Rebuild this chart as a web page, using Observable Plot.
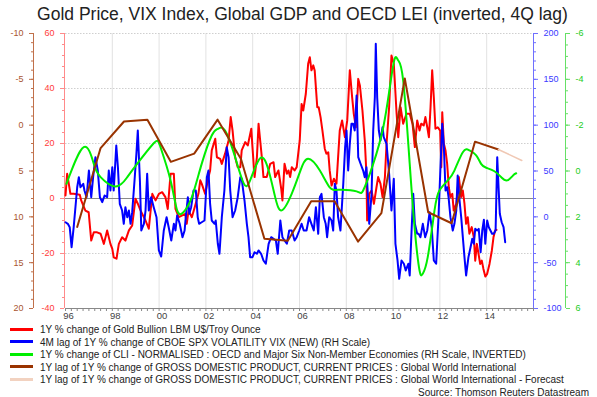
<!DOCTYPE html>
<html><head><meta charset="utf-8">
<script src="https://cdn.jsdelivr.net/npm/d3@7"></script>
<script src="https://cdn.jsdelivr.net/npm/@observablehq/plot@0.6"></script>
<style>
body{margin:0;background:#fff;font-family:"Liberation Sans",Arial,sans-serif;width:597px;height:397px;overflow:hidden}
#title{height:28px;line-height:28px;text-align:center;font-size:17.5px;color:#222;padding-left:8px}
#chart svg{display:block}
#legend{font-size:10px;color:#222;padding-left:10px;margin-top:-4px;position:relative}
.row{height:12.5px;line-height:12.5px;white-space:nowrap}
.sw{display:inline-block;width:23px;height:3px;vertical-align:middle;margin-right:7px;position:relative;top:-1px}
#source{font-size:10px;color:#222;text-align:right;padding-right:8px;height:11px;line-height:11px;position:relative}
</style></head>
<body>
<div id="title">Gold Price, VIX Index, Global GDP and OECD LEI (inverted, 4Q lag)</div>
<div id="chart"></div>
<div id="legend"></div>
<div id="source">Source: Thomson Reuters Datastream</div>
<script>
// ---- data (decimal year, value) ----
const gold = [[1996.00,1.1],[1996.07,9.0],[1996.14,5.4],[1996.21,1.7],[1996.35,1.7],[1996.61,1.4],[1996.67,-0.7],[1996.85,-4.4],[1996.99,-5.0],[1997.10,-15.3],[1997.21,-12.3],[1997.35,-12.3],[1997.50,-12.8],[1997.64,-16.5],[1997.78,-11.6],[1997.92,-16.5],[1998.00,-18.3],[1998.06,-21.4],[1998.18,-21.9],[1998.28,-16.5],[1998.42,-14.1],[1998.56,-15.3],[1998.71,-11.6],[1998.85,-9.8],[1998.99,-0.1],[1999.09,-1.9],[1999.21,-4.4],[1999.42,-8.0],[1999.56,-11.0],[1999.71,1.7],[1999.85,-0.7],[1999.99,1.7],[2000.13,2.3],[2000.27,0.5],[2000.37,-3.8],[2000.49,9.0],[2000.63,9.0],[2000.70,-3.8],[2000.84,-6.8],[2001.12,-5.6],[2001.18,-9.2],[2001.26,-4.4],[2001.40,-6.8],[2001.54,-2.6],[2001.68,1.7],[2001.76,6.6],[2001.82,5.4],[2001.97,1.7],[2002.11,7.8],[2002.18,10.2],[2002.25,17.5],[2002.40,21.7],[2002.47,15.0],[2002.61,14.4],[2002.68,12.6],[2002.82,16.3],[2002.97,21.1],[2003.06,29.6],[2003.14,24.7],[2003.25,15.0],[2003.36,11.4],[2003.47,11.4],[2003.53,17.5],[2003.68,20.5],[2003.79,19.3],[2003.94,25.4],[2003.99,18.7],[2004.08,7.8],[2004.18,15.0],[2004.25,27.2],[2004.32,21.1],[2004.39,15.0],[2004.46,7.8],[2004.60,7.8],[2004.75,12.6],[2004.89,13.2],[2004.96,7.8],[2005.10,10.2],[2005.22,3.5],[2005.27,-0.7],[2005.36,12.6],[2005.46,9.0],[2005.53,10.2],[2005.60,7.8],[2005.67,11.4],[2005.79,10.2],[2005.88,11.4],[2006.01,21.1],[2006.09,34.4],[2006.16,32.0],[2006.27,38.1],[2006.37,49.0],[2006.44,51.4],[2006.51,46.6],[2006.59,48.4],[2006.65,46.5],[2006.76,33.2],[2006.82,33.2],[2006.90,29.6],[2006.98,24.7],[2007.08,18.1],[2007.15,16.3],[2007.23,16.8],[2007.29,10.2],[2007.37,4.7],[2007.47,7.2],[2007.58,5.4],[2007.72,24.7],[2007.82,28.4],[2007.94,22.3],[2008.04,28.4],[2008.15,46.6],[2008.25,36.8],[2008.32,30.8],[2008.41,25.9],[2008.51,43.5],[2008.58,41.1],[2008.69,32.0],[2008.79,21.1],[2008.86,9.0],[2008.89,-8.0],[2008.98,1.7],[2009.08,2.9],[2009.18,-1.9],[2009.29,4.1],[2009.36,7.8],[2009.46,5.4],[2009.55,0.5],[2009.65,7.8],[2009.72,19.9],[2009.83,33.2],[2009.93,52.0],[2010.03,49.0],[2010.15,30.8],[2010.22,22.3],[2010.32,33.2],[2010.43,27.2],[2010.57,30.8],[2010.71,30.8],[2010.83,27.2],[2010.93,18.7],[2011.03,28.4],[2011.13,24.7],[2011.20,27.2],[2011.31,26.6],[2011.38,29.6],[2011.46,25.9],[2011.53,22.3],[2011.60,33.2],[2011.67,46.6],[2011.74,36.8],[2011.81,25.4],[2011.91,25.9],[2012.01,24.7],[2012.06,11.4],[2012.10,31.4],[2012.17,19.9],[2012.24,17.5],[2012.31,12.6],[2012.38,4.1],[2012.45,0.5],[2012.53,1.7],[2012.59,-4.4],[2012.70,-1.9],[2012.81,7.8],[2012.91,0.5],[2012.98,2.9],[2013.05,-1.9],[2013.12,-9.2],[2013.19,-6.8],[2013.26,-12.8],[2013.36,-10.4],[2013.45,-14.1],[2013.51,-22.6],[2013.58,-16.5],[2013.65,-20.1],[2013.72,-23.8],[2013.79,-22.6],[2013.86,-25.6],[2013.94,-28.4],[2014.02,-27.4],[2014.12,-23.8],[2014.22,-18.9],[2014.29,-14.1],[2014.36,-11.6],[2014.42,-11.4]];

const vix = [[1996.00,-5.9],[1996.10,-7.6],[1996.18,-11.3],[1996.26,-33.1],[1996.35,-11.3],[1996.50,32.3],[1996.57,43.2],[1996.64,32.3],[1996.76,36.0],[1996.81,28.7],[1996.90,21.4],[1997.00,50.5],[1997.10,21.4],[1997.18,43.2],[1997.28,65.1],[1997.38,50.5],[1997.47,21.4],[1997.57,16.0],[1997.67,23.3],[1997.78,21.4],[1997.85,50.5],[1997.92,28.7],[1998.00,54.1],[1998.06,28.7],[1998.17,77.8],[1998.24,54.1],[1998.32,14.2],[1998.42,6.9],[1998.49,-7.6],[1998.56,10.5],[1998.64,-0.4],[1998.71,6.9],[1998.78,-7.6],[1998.85,5.1],[1998.95,39.6],[1999.03,68.8],[1999.09,94.2],[1999.18,39.6],[1999.24,-14.9],[1999.35,-7.6],[1999.42,6.9],[1999.49,46.9],[1999.56,6.9],[1999.66,21.4],[1999.77,10.5],[1999.89,-0.4],[1999.99,-36.7],[2000.09,-43.3],[2000.20,-14.9],[2000.32,-0.4],[2000.41,-11.3],[2000.52,-25.8],[2000.63,-7.6],[2000.70,-14.9],[2000.77,1.5],[2000.88,-7.6],[2001.00,-22.2],[2001.09,-14.9],[2001.14,-0.4],[2001.23,21.4],[2001.29,3.3],[2001.37,10.5],[2001.47,28.7],[2001.57,28.7],[2001.65,-0.4],[2001.71,-7.6],[2001.82,-5.9],[2001.94,-4.0],[2002.04,43.2],[2002.11,50.5],[2002.18,14.2],[2002.25,-4.0],[2002.37,-7.6],[2002.42,-4.0],[2002.51,-29.4],[2002.58,-40.3],[2002.68,-0.4],[2002.79,28.7],[2002.89,76.0],[2002.97,65.1],[2003.04,28.7],[2003.14,-0.4],[2003.25,6.9],[2003.36,21.4],[2003.47,43.2],[2003.53,41.5],[2003.65,17.8],[2003.75,-7.6],[2003.82,-22.2],[2003.89,-44.0],[2003.99,-44.0],[2004.08,-38.6],[2004.18,-40.3],[2004.25,-36.7],[2004.36,-40.3],[2004.46,-47.6],[2004.56,-51.2],[2004.68,-29.4],[2004.79,-22.2],[2004.89,-24.0],[2004.99,-25.8],[2005.07,-40.3],[2005.18,-4.0],[2005.27,-22.2],[2005.36,-25.8],[2005.46,-29.4],[2005.56,-14.9],[2005.67,-14.9],[2005.79,-25.8],[2005.88,-22.2],[2005.99,-14.9],[2006.09,-7.6],[2006.18,-14.9],[2006.30,-14.9],[2006.41,-0.4],[2006.51,-7.6],[2006.61,-14.9],[2006.70,10.5],[2006.80,-18.5],[2006.87,21.4],[2006.94,25.1],[2007.04,-0.4],[2007.12,-7.6],[2007.18,-22.2],[2007.27,-0.4],[2007.37,-4.0],[2007.44,-14.9],[2007.51,36.0],[2007.58,28.7],[2007.65,-0.4],[2007.75,-14.9],[2007.87,36.0],[2007.95,76.0],[2008.01,94.2],[2008.08,50.5],[2008.15,79.7],[2008.22,101.5],[2008.29,101.5],[2008.36,94.2],[2008.44,132.4],[2008.51,65.1],[2008.61,57.9],[2008.72,50.5],[2008.79,43.2],[2008.86,54.1],[2008.94,14.2],[2008.98,-7.6],[2009.08,25.1],[2009.15,94.2],[2009.22,130.5],[2009.26,188.8],[2009.32,130.5],[2009.39,94.2],[2009.46,83.3],[2009.55,97.8],[2009.60,86.9],[2009.72,79.7],[2009.83,47.0],[2009.93,6.9],[2010.03,41.5],[2010.10,-29.4],[2010.19,-47.6],[2010.26,-67.6],[2010.36,-47.6],[2010.46,-51.2],[2010.54,-58.5],[2010.65,-51.2],[2010.71,-64.0],[2010.79,-14.9],[2010.86,25.1],[2010.93,-7.6],[2011.03,-18.5],[2011.09,-18.5],[2011.17,-22.2],[2011.27,-7.6],[2011.37,-22.2],[2011.46,-14.9],[2011.56,5.1],[2011.65,-11.3],[2011.74,-47.6],[2011.84,-51.2],[2011.94,-0.4],[2012.03,57.9],[2012.10,101.5],[2012.17,76.0],[2012.24,28.7],[2012.31,32.3],[2012.37,21.4],[2012.45,-0.4],[2012.55,-14.9],[2012.62,-7.6],[2012.70,6.9],[2012.76,45.1],[2012.84,17.8],[2012.91,-0.4],[2012.98,-22.2],[2013.05,-44.0],[2013.12,-64.0],[2013.22,-44.0],[2013.31,-33.1],[2013.38,-24.0],[2013.45,-29.4],[2013.51,-13.1],[2013.59,-14.9],[2013.66,-13.1],[2013.74,-38.6],[2013.81,-14.9],[2013.88,-3.2],[2013.94,-29.4],[2014.02,-4.0],[2014.09,-11.3],[2014.16,-14.9],[2014.23,-18.5],[2014.30,-18.5],[2014.38,-14.9],[2014.45,65.1],[2014.50,36.0],[2014.56,3.3],[2014.64,-5.9],[2014.72,-11.3],[2014.79,-27.7]];

const cli = [[1996.04,0.56],[1996.78,-1.04],[1997.21,-0.31],[1997.50,0.27],[1998.14,0.68],[1998.64,0.27],[1999.06,-0.31],[1999.77,-1.21],[2000.06,-1.04],[2000.49,0.41],[2000.77,1.72],[2001.04,1.80],[2001.40,1.14],[2001.82,-0.31],[2002.25,-1.55],[2002.51,-1.84],[2002.82,-1.77],[2003.25,-0.60],[2003.61,0.53],[2003.89,0.41],[2004.32,-0.56],[2004.68,-0.02],[2004.96,1.14],[2005.24,1.72],[2005.67,0.99],[2006.04,-0.02],[2006.37,-0.53],[2006.87,-0.02],[2007.29,0.71],[2007.72,0.82],[2008.44,0.89],[2008.72,0.85],[2009.15,-0.31],[2009.58,-1.91],[2009.86,-3.66],[2010.07,-4.90],[2010.22,-4.82],[2010.43,-3.95],[2010.71,-0.31],[2010.93,2.60],[2011.13,4.34],[2011.27,4.48],[2011.48,3.76],[2011.77,1.72],[2011.98,0.85],[2012.34,0.41],[2012.62,-0.02],[2012.98,-0.82],[2013.26,-0.90],[2013.55,-0.68],[2013.76,-0.31],[2013.98,-0.14],[2014.33,0.01],[2014.62,0.27],[2014.88,0.41],[2015.12,0.20],[2015.26,0.10]];

const gdpYears = [1996.5,1997.5,1998.5,1999.5,2000.5,2001.5,2002.5,2003.5,2004.5,2005.5,2006.5,2007.5,2008.5,2009.5,2010.5,2011.5,2012.5,2013.5,2014.5];
const gdpValues = [11.1,2.5,-0.4,-0.6,4.0,3.1,-0.6,3.7,12.4,12.6,8.3,8.3,12.7,9.6,-5.1,9.5,10.7,1.8,2.65];
const gdpForecastYears = [2014.5,2015.5];
const gdpForecastValues = [2.65,3.85];

const xTickYears = [1996,1998,2000,2002,2004,2006,2008,2010,2012,2014];

const legendItems = [
  ["#ff0000","1Y % change of Gold Bullion LBM U$/Troy Ounce"],
  ["#0000ff","4M lag of 1Y % change of CBOE SPX VOLATILITY VIX (NEW) (RH Scale)"],
  ["#00ee00","1Y % change of CLI - NORMALISED : OECD and Major Six Non-Member Economies (RH Scale, INVERTED)"],
  ["#993300","1Y lag of 1Y % change of GROSS DOMESTIC PRODUCT, CURRENT PRICES : Global World International"],
  ["#f2d2c0","1Y lag of 1Y % change of GROSS DOMESTIC PRODUCT, CURRENT PRICES : Global World International - Forecast"]
];

// ---- map every series onto the shared (gold, left-inner) y scale ----
const blueY = v => -40 + (v + 100) / 3;            // -100..200  -> -40..60
const greenY = v => 60 - (v + 6) * 100 / 12;       // -6 (top)..6 (bottom)
const brownY = v => 60 - (v + 10) * 100 / 30;      // -10 (top)..20 (bottom)
const invBlue = y => (y + 40) * 3 - 100;
const invGreen = y => (60 - y) * 12 / 100 - 6;
const invBrown = y => (60 - y) * 30 / 100 - 10;
const fmt = v => { const r = Math.round(v * 100) / 100; return String(Object.is(r, -0) ? 0 : r); };

const goldData = gold.map(([x, v]) => ({x, y: v}));
const vixData = vix.map(([x, v]) => ({x, y: blueY(v)}));
const cliData = cli.map(([x, v]) => ({x, y: greenY(v)}));
const gdpData = gdpYears.map((x, i) => ({x, y: brownY(gdpValues[i])}));
const gdpFData = gdpForecastYears.map((x, i) => ({x, y: brownY(gdpForecastValues[i])}));

const brownC = "#a9552f", redC = "#ff3b3b", blueC = "#3a3aff", greenC = "#22cc22";
const quarters = d3.range(1996, 2016.001, 0.25);

function yAxis(major, minor, conv, inv, anchor, dx, color, lineColor) {
  return [
    Plot.ruleX([anchor === "left" ? 1996 : 2016], {y1: -40, y2: 60, stroke: lineColor, dx}),
    Plot.axisY(minor.map(conv), {anchor, dx, label: null, tickSize: 2, tickFormat: () => "", stroke: lineColor}),
    Plot.axisY(major.map(conv), {anchor, dx, label: null, tickSize: 4, tickPadding: 6, tickFormat: y => fmt(inv(y)), color, stroke: lineColor, fontSize: 9})
  ];
}

const chart = Plot.plot({
  width: 597, height: 300,
  marginTop: 5, marginBottom: 20, marginLeft: 65, marginRight: 64,
  style: {fontFamily: "'Liberation Sans', Arial, sans-serif", background: "transparent"},
  x: {domain: [1996, 2016], axis: null},
  y: {domain: [-40, 60], axis: null},
  marks: [
    Plot.ruleX(xTickYears.slice(1), {y1: -40, y2: 60, stroke: "#e2e2e2"}),
    Plot.ruleY([60, 40, 20, -20], {x1: 1996, x2: 2016, stroke: "#cfcfcf", strokeDasharray: "1.5,1.5"}),
    Plot.ruleY([0], {x1: 1996, x2: 2016, stroke: "#8a8a8a", strokeWidth: 1.2}),
    Plot.ruleY([-40], {x1: 1996, x2: 2016, stroke: "#888"}),
    Plot.axisX(quarters, {label: null, tickSize: 3, tickFormat: () => "", stroke: "#888"}),
    Plot.axisX(xTickYears, {label: null, tickSize: 0, tickPadding: 4, dx: 3, tickFormat: d => String(d % 100).padStart(2, "0"), color: "#444", fontSize: 9.5}),
    ...yAxis(d3.range(-10, 21, 5), d3.range(-10, 21, 1), brownY, invBrown, "left", -32, brownC, "#c0704a"),
    ...yAxis(d3.range(-40, 61, 20), d3.range(-40, 61, 4), v => v, v => v, "left", -1, redC, "#ff8a8a"),
    ...yAxis(d3.range(-100, 201, 50), d3.range(-100, 201, 10), blueY, invBlue, "right", 0, blueC, "#6f6fff"),
    ...yAxis(d3.range(-6, 7, 2), d3.range(-6, 6.01, 0.5), greenY, invGreen, "right", 32, greenC, "#66e066"),
    Plot.line(goldData, {x: "x", y: "y", stroke: "#ff0000", strokeWidth: 2}),
    Plot.line(vixData, {x: "x", y: "y", stroke: "#0000ff", strokeWidth: 2}),
    Plot.line(cliData, {x: "x", y: "y", stroke: "#00ee00", strokeWidth: 2, curve: "natural"}),
    Plot.line(gdpData, {x: "x", y: "y", stroke: "#993300", strokeWidth: 2}),
    Plot.line(gdpFData, {x: "x", y: "y", stroke: "#f0c8b4", strokeWidth: 1.5})
  ]
});
document.getElementById("chart").appendChild(chart);

const leg = document.getElementById("legend");
for (const [c, t] of legendItems) {
  const row = document.createElement("div");
  row.className = "row";
  const sw = document.createElement("span");
  sw.className = "sw"; sw.style.background = c;
  row.appendChild(sw);
  row.appendChild(document.createTextNode(t));
  leg.appendChild(row);
}
</script>
</body></html>
